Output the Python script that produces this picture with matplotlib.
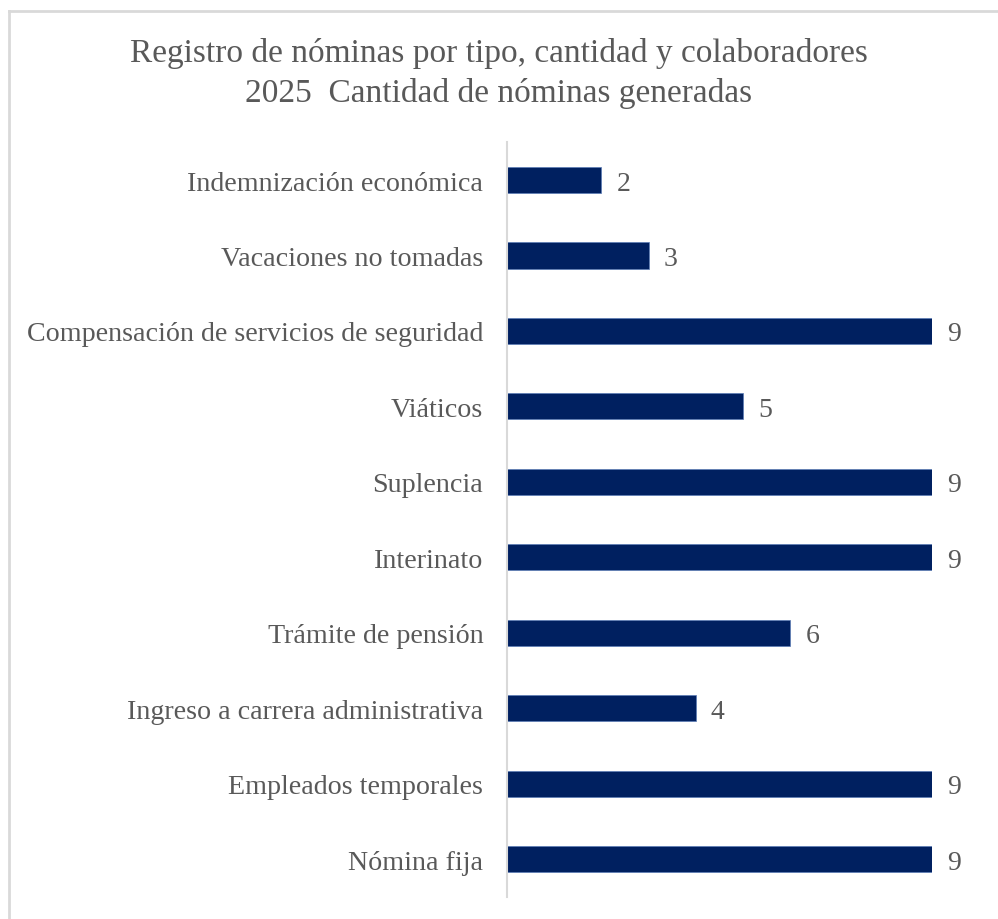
import matplotlib.pyplot as plt
from matplotlib.lines import Line2D

# Tipos de nómina (de abajo hacia arriba) y cantidad generada
tipos = [
    "Nómina fija",
    "Empleados temporales",
    "Ingreso a carrera administrativa",
    "Trámite de pensión",
    "Interinato",
    "Suplencia",
    "Viáticos",
    "Compensación de servicios de seguridad",
    "Vacaciones no tomadas",
    "Indemnización económica",
]
cantidades = [9, 9, 4, 6, 9, 9, 5, 9, 3, 2]

titulo = ["Registro de nóminas por tipo, cantidad y colaboradores",
          "2025  Cantidad de nóminas generadas"]

plt.rcParams["font.family"] = ["Liberation Serif", "DejaVu Serif"]
gris = "#595959"
azul = "#002060"

fig = plt.figure(figsize=(9.98, 9.2), dpi=100)
ax = fig.add_axes([0.508, 0.0242, 0.426, 0.82])

y = range(len(tipos))
bars = ax.barh(y, cantidades, height=0.345, color=azul, edgecolor="#5b7bb5", linewidth=0.5)

for b, v in zip(bars, cantidades):
    ax.annotate(str(v), (b.get_width(), b.get_y() + b.get_height() / 2),
                xytext=(15, 0), textcoords="offset pixels",
                va="center_baseline", ha="left", fontsize=20, color=gris,
                annotation_clip=False)

ax.set_xlim(0, 9)
ax.set_ylim(-0.5, len(tipos) - 0.5)
ax.set_yticks(list(y))
ax.set_yticklabels(tipos, fontsize=20.2, color=gris, va="center_baseline")
ax.tick_params(axis="y", length=0, pad=17)
ax.set_xticks([])
for s in ["top", "right", "bottom"]:
    ax.spines[s].set_visible(False)
ax.spines["left"].set_color("#d9d9d9")
ax.spines["left"].set_linewidth(1.5)

# Título en dos líneas
fig.text(0.5, 0.9457, titulo[0], ha="center", va="center_baseline", fontsize=24, color=gris)
fig.text(0.5, 0.902, titulo[1], ha="center", va="center_baseline", fontsize=24, color=gris)

# Marco del área del gráfico
fig.add_artist(Line2D([0.009, 1.0], [0.987, 0.987], color="#d9d9d9", lw=2, transform=fig.transFigure))
fig.add_artist(Line2D([0.009, 0.009], [0.0, 0.987], color="#d9d9d9", lw=2, transform=fig.transFigure))

plt.savefig("out.png", dpi=100)
plt.close()
